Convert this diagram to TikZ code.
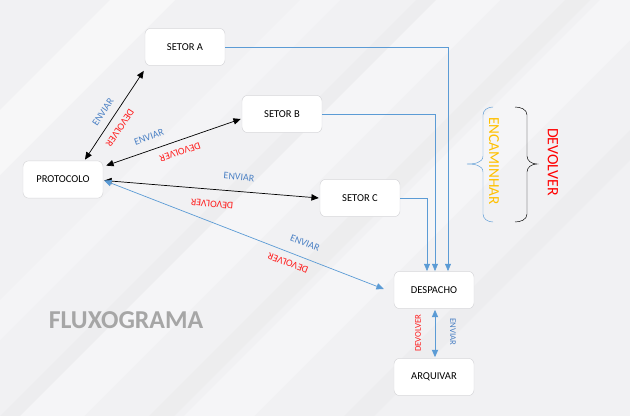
\documentclass[tikz,border=0pt]{standalone}
\usepackage{fontspec}
\setmainfont{Carlito}
\usetikzlibrary{arrows.meta}
\definecolor{bgray}{HTML}{F1F1F3}
\definecolor{lineblue}{HTML}{5B9BD5}
\definecolor{txtblue}{HTML}{4A80C4}
\definecolor{ored}{HTML}{FF1A1A}
\definecolor{oyellow}{HTML}{FFC000}
\definecolor{boxline}{HTML}{D6D6D9}

\begin{document}
\begin{tikzpicture}[
    x=0.03cm, y=-0.03cm,
    box/.style={draw=boxline, fill=white, rounded corners=5pt, minimum width=2.4cm, minimum height=1.12cm, inner sep=0pt, font=\fontsize{9}{11}\selectfont},
    lbl/.style={inner sep=0pt, font=\fontsize{8.5}{10}\selectfont},
    env/.style={lbl, text=txtblue},
    dev/.style={lbl, text=ored},
    arr/.style={{Triangle[length=2.2mm,width=1.9mm]}-{Triangle[length=2.2mm,width=1.9mm]}, semithick},
    barr/.style={arr, draw=lineblue},
    flow/.style={-{Triangle[length=2.2mm,width=1.8mm]}, draw=lineblue}
]
    \fill[bgray] (0,0) rectangle (630,416);
    \fill[white, opacity=.45] (0,110) -- (110,0) -- (175,0) -- (0,175) -- cycle;
    \fill[white, opacity=.25] (0,300) -- (300,0) -- (340,0) -- (0,340) -- cycle;
    \fill[gray!20, opacity=.25] (0,416) -- (416,0) -- (436,0) -- (20,416) -- cycle;
    \fill[white, opacity=.35] (436,0) -- (500,0) -- (84,416) -- (20,416) -- cycle;
    \fill[gray!20, opacity=.3] (565,0) -- (590,0) -- (174,416) -- (149,416) -- cycle;
    \fill[white, opacity=.35] (600,0) -- (630,0) -- (630,40) -- (254,416) -- (184,416) -- cycle;
    \fill[gray!20, opacity=.25] (630,130) -- (630,160) -- (374,416) -- (344,416) -- cycle;
    \useasboundingbox (0,0) rectangle (630,416);

    \node[box] (seta) at (185, 47)  {SETOR A};
    \node[box] (setb) at (282,114)  {SETOR B};
    \node[box] (prot) at (63, 179.5){PROTOCOLO};
    \node[box] (setc) at (360,198)  {SETOR C};
    \node[box] (desp) at (434,290)  {DESPACHO};
    \node[box] (arq)  at (434,377)  {ARQUIVAR};

    \draw[arr]  ([shift={(22,-1)}]prot.north) -- ([shift={(-1,5)}]seta.south west);
    \draw[arr]  ([shift={(3,5)}]prot.north east) -- ([shift={(-1,5)}]setb.west);
    \draw[arr]  ([shift={(1,1)}]prot.east) -- ([shift={(-1,0)}]setc.west);
    \draw[barr] ([shift={(1,1)}]prot.east) -- ([shift={(-10,-1)}]desp.west);
    \draw[barr] ([shift={(1,1)}]desp.south) -- ([shift={(1,-1)}]arq.north);

    \draw[flow] (seta.east) -| ([shift={(14,0)}]desp.north);
    \draw[flow] (setb.east) -| ([shift={(1,0)}]desp.north);
    \draw[flow] (setc.east) -| ([shift={(-7,0)}]desp.north);

    \node[env, rotate=56]  (envA) at (103,112) {ENVIAR};
    \node[dev, rotate=236] (devA) at (120,128) {DEVOLVER};
    \node[env, rotate=19]  (envB) at (149,137) {ENVIAR};
    \node[dev, rotate=199] (devB) at (180,152) {DEVOLVER};
    \node[env, rotate=-5]  (envC) at (239,177) {ENVIAR};
    \node[dev, rotate=175] (devC) at (212,204) {DEVOLVER};
    \node[env, rotate=-21] (envD) at (305,243) {ENVIAR};
    \node[dev, rotate=159] (devD) at (288,263) {DEVOLVER};
    \node[dev, rotate=90, font=\fontsize{7.5}{9}\selectfont]  (devE) at (418,333) {DEVOLVER};
    \node[env, rotate=-90, font=\fontsize{7.5}{9}\selectfont] (envE) at (453,332) {ENVIAR};

    \draw[lineblue] (493,107) to[out=180,in=90] (483,115) -- (483,156) to[out=270,in=0] (467,164)
        to[out=0,in=90] (483,172) -- (483,214) to[out=270,in=180] (493,222);
    \draw[black] (515,107) to[out=0,in=90] (527,115) -- (527,156) to[out=270,in=180] (537,164)
        to[out=180,in=90] (527,172) -- (527,214) to[out=270,in=0] (515,222);
    \node[lbl, rotate=-90, text=oyellow, font=\fontsize{13}{15}\selectfont] (enc) at (494,161) {ENCAMINHAR};
    \node[lbl, rotate=-90, text=red, font=\fontsize{13.5}{15}\selectfont] (devF) at (553,162) {DEVOLVER};

    \node[lbl, text=black!35, font=\fontsize{22}{26}\bfseries\selectfont] (titulo) at (126,320) {FLUXOGRAMA};
\end{tikzpicture}
\end{document}
